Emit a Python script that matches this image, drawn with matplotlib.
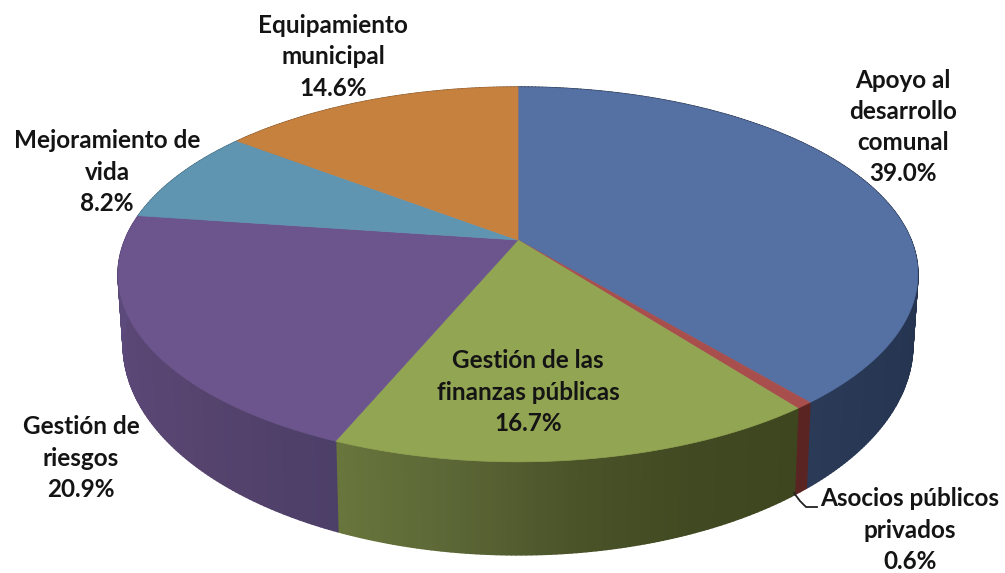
import numpy as np
import matplotlib
matplotlib.use('Agg')
import matplotlib.pyplot as plt
from matplotlib.collections import PolyCollection
from matplotlib.colors import LinearSegmentedColormap
from matplotlib.patches import Polygon

# Datos, en sentido horario desde arriba
categorias = ['Apoyo al\ndesarrollo\ncomunal', 'Asocios públicos\nprivados',
              'Gestión de las\nfinanzas públicas', 'Gestión de\nriesgos',
              'Mejoramiento de\nvida', 'Equipamiento\nmunicipal']
valores = [39.0, 0.6, 16.7, 20.9, 8.2, 14.6]

colores_top = ['#5570a3', '#a84f4d', '#92a553', '#6b558c', '#5f95b1', '#c6813f']
colores_lado = [['#202d47', '#202d47', '#2a3a57'],
                ['#5a2422', '#5a2422'],
                ['#3e4620', '#414922', '#4a5228', '#5b6636', '#68763c'],
                ['#4c3f68', '#57446f', '#5b4878', '#5f4c80'],
                ['#3f6478', '#3f6478'],
                ['#86562a', '#86562a']]

# posiciones de las etiquetas (centro del bloque de texto)
pos_etiquetas = [(903, 127), (910, 530), (528, 392), (81, 458), (107, 172), (333, 57)]

K = 0.184
CX = 518


def proyecta(theta, tapa=True):
    # disco visto en perspectiva
    u, v = np.sin(theta), -np.cos(theta)
    w = 1 - K * v
    if tapa:
        return CX + 393 * u / w, 240 + 181 * v / w
    return CX + 388 * u / w, 306 + 203 * v / w


fig = plt.figure(figsize=(10.05, 5.73), dpi=100)
ax = fig.add_axes([0, 0, 1, 1])
ax.set_xlim(0, 1005)
ax.set_ylim(573, 0)
ax.axis('off')

limites = np.radians(np.cumsum([0] + valores) / sum(valores) * 360)

# caras laterales con degradado
for i in range(len(valores)):
    t = np.linspace(limites[i], limites[i + 1], max(int(valores[i] * 6), 3))
    xa, ya = proyecta(t)
    xb, yb = proyecta(t, tapa=False)
    quads = [[(xa[j], ya[j]), (xa[j + 1], ya[j + 1]), (xb[j + 1], yb[j + 1]), (xb[j], yb[j])]
             for j in range(len(t) - 1)]
    cmap = LinearSegmentedColormap.from_list('lado', colores_lado[i])
    col = [cmap(f) for f in np.linspace(0, 1, len(quads))]
    ax.add_collection(PolyCollection(quads, facecolors=col, edgecolors=col, linewidths=1.2))

# cara superior
for i in range(len(valores)):
    t = np.linspace(limites[i], limites[i + 1], max(int(valores[i] * 6), 3))
    xa, ya = proyecta(t)
    pts = [(CX, 240)] + list(zip(xa, ya))
    ax.add_patch(Polygon(pts, closed=True, facecolor=colores_top[i],
                         edgecolor=colores_top[i], linewidth=0.5))

# linea guia de Asocios
ax.plot([794, 800, 806, 817], [493, 501, 507, 507], color='#222222', lw=1.3)

for i in range(len(valores)):
    txt = categorias[i] + '\n%.1f%%' % valores[i]
    x, y = pos_etiquetas[i]
    ax.text(x, y, txt, ha='center', va='center', family='Lato', weight='bold',
            fontsize=17.5, color='#141414', linespacing=1.43)

fig.savefig('out.png', dpi=100, facecolor='white')
